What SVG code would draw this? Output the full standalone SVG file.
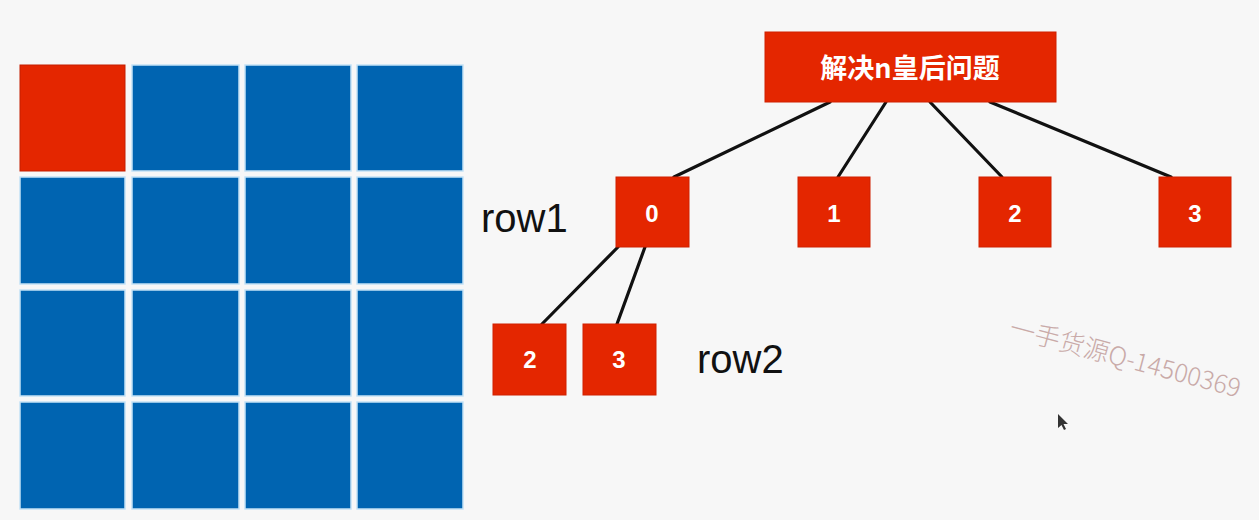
<svg xmlns="http://www.w3.org/2000/svg" width="1259" height="520" viewBox="0 0 1259 520">
<style>
.cell{fill:#0064b1;stroke:#c4e2f6;stroke-width:1.5}
.q{fill:#e42600;stroke:#c41e00;stroke-width:1}
.node{fill:#e42600;stroke:#d02000;stroke-width:1}
.num{font-family:"Liberation Sans",Arial,sans-serif;font-weight:bold;font-size:24px;fill:#ffffff;text-anchor:middle}
.lbl{font-family:"Liberation Sans",Arial,sans-serif;font-size:40px;fill:#111111}
.edge{stroke:#111111;stroke-width:3.2;stroke-linecap:round;fill:none}
</style>
<rect width="1259" height="520" fill="#f7f7f7"/>
<g id="board">
<rect class="q" x="20" y="65" width="105" height="106"/>
<rect class="cell" x="132" y="65" width="107" height="106"/>
<rect class="cell" x="245" y="65" width="106" height="106"/>
<rect class="cell" x="357" y="65" width="106" height="106"/>
<rect class="cell" x="20" y="177" width="105" height="107"/>
<rect class="cell" x="132" y="177" width="107" height="107"/>
<rect class="cell" x="245" y="177" width="106" height="107"/>
<rect class="cell" x="357" y="177" width="106" height="107"/>
<rect class="cell" x="20" y="290" width="105" height="106"/>
<rect class="cell" x="132" y="290" width="107" height="106"/>
<rect class="cell" x="245" y="290" width="106" height="106"/>
<rect class="cell" x="357" y="290" width="106" height="106"/>
<rect class="cell" x="20" y="402" width="105" height="107"/>
<rect class="cell" x="132" y="402" width="107" height="107"/>
<rect class="cell" x="245" y="402" width="106" height="107"/>
<rect class="cell" x="357" y="402" width="106" height="107"/>
</g>
<g id="connectors">
<line class="edge" x1="830" y1="102" x2="674" y2="177"/>
<line class="edge" x1="886" y1="102" x2="838" y2="177"/>
<line class="edge" x1="930" y1="102" x2="1002" y2="177"/>
<line class="edge" x1="990" y1="102" x2="1171" y2="177"/>
<line class="edge" x1="618" y1="247" x2="542" y2="324"/>
<line class="edge" x1="645" y1="247" x2="617" y2="324"/>
</g>
<g id="root">
<rect class="node" x="765" y="32" width="291" height="70"/>
<text x="910" y="78" font-family="'Noto Sans CJK SC',sans-serif" font-weight="bold" font-size="27" fill="#ffffff" text-anchor="middle">解决n皇后问题</text>
</g>
<g id="n0"><rect class="node" x="616" y="177" width="73" height="70"/><text class="num" x="652" y="222">0</text></g>
<g id="n1"><rect class="node" x="798" y="177" width="72" height="70"/><text class="num" x="834" y="222">1</text></g>
<g id="n2"><rect class="node" x="979" y="177" width="72" height="70"/><text class="num" x="1015" y="222">2</text></g>
<g id="n3"><rect class="node" x="1159" y="177" width="72" height="70"/><text class="num" x="1195" y="222">3</text></g>
<g id="n02"><rect class="node" x="493" y="324" width="73" height="71"/><text class="num" x="530" y="368">2</text></g>
<g id="n03"><rect class="node" x="583" y="324" width="73" height="71"/><text class="num" x="619" y="368">3</text></g>
<g id="labels">
<text class="lbl" x="481" y="232">row1</text>
<text class="lbl" x="697" y="373">row2</text>
</g>
<g id="watermark">
<text x="1008" y="336" transform="rotate(15 1008 336)" font-family="'Noto Sans CJK SC',sans-serif" font-weight="300" font-size="25.5" fill="#c9aaa8">一手货源Q-14500369</text>
</g>
<path d="M1058 414 L1058 428 L1061.5 425 L1064 430 L1066 429 L1063.5 424 L1068 424 Z" fill="#333333"/>
</svg>
